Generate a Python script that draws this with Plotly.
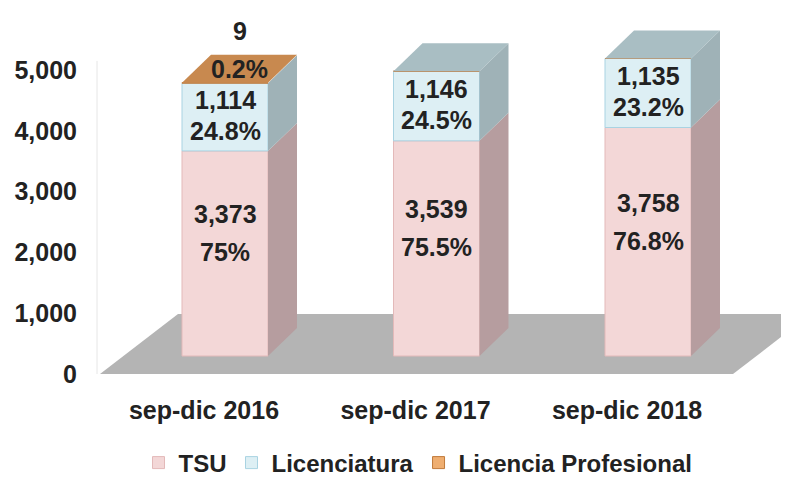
import plotly.graph_objects as go

# ---------------- data ----------------
categories = ["sep-dic 2016", "sep-dic 2017", "sep-dic 2018"]
tsu = [3373, 3539, 3758]
licenciatura = [1114, 1146, 1135]
lic_prof = [9, 0, 0]
tsu_pct = ["75%", "75.5%", "76.8%"]
lic_pct = ["24.8%", "24.5%", "23.2%"]
lic_prof_pct = ["0.2%", "", ""]
y_ticks = [0, 1000, 2000, 3000, 4000, 5000]

# ---------------- layout geometry ----------------
PAGE_OFF = 8                      # default body margin of the html page
W, H = 789 - PAGE_OFF, 489 - PAGE_OFF
ML, MR, MT = 97 - PAGE_OFF, 0, 0
MB = H - (374 - PAGE_OFF)
PLOT_W = W - ML - MR
PLOT_H = H - MT - MB
X_PX_PER_CAT = 211.5
FIRST_CAT_PX = 225.0 - PAGE_OFF   # pixel x of first bar front centre
Y_MAX = PLOT_H / 0.0608

def dx_px(p):
    return p / X_PX_PER_CAT

def dy_px(p):
    return p * Y_MAX / PLOT_H

def x_at(page_pixel):
    return (page_pixel - PAGE_OFF - FIRST_CAT_PX) / X_PX_PER_CAT

X_MIN = (ML - FIRST_CAT_PX) / X_PX_PER_CAT
X_MAX = X_MIN + PLOT_W / X_PX_PER_CAT

BAR_W = dx_px(86)
FRONT_BASE = dy_px(18)
DEPTH_X, DEPTH_Y = dx_px(29), dy_px(28)

FONT = "Liberation Sans, Arial, sans-serif"
TXT = "#222222"

C_TSU, C_TSU_SIDE, C_TSU_LINE = "#F3D7D7", "#B69D9F", "#E3B9B9"
C_LIC, C_LIC_SIDE, C_LIC_TOP, C_LIC_LINE = "#DDEFF4", "#9FB2B7", "#A9BEC3", "#A9D3E2"
C_LP, C_LP_SIDE, C_LP_TOP, C_LP_LINE = "#EFAE70", "#A8703F", "#C8894F", "#C07A3A"

xs = list(range(len(categories)))
base_tsu = [FRONT_BASE for _ in xs]
base_lic = [FRONT_BASE + t for t in tsu]
base_lp = [FRONT_BASE + t + l for t, l in zip(tsu, licenciatura)]
tops = [b + p for b, p in zip(base_lp, lic_prof)]

fig = go.Figure()

# front faces (library bars)
fig.add_trace(go.Bar(x=xs, y=tsu, base=base_tsu, width=BAR_W, name="TSU",
                     marker=dict(color=C_TSU, line=dict(color=C_TSU_LINE, width=1)),
                     hoverinfo="skip"))
fig.add_trace(go.Bar(x=xs, y=licenciatura, base=base_lic, width=BAR_W, name="Licenciatura",
                     marker=dict(color=C_LIC, line=dict(color=C_LIC_LINE, width=1)),
                     hoverinfo="skip"))
fig.add_trace(go.Bar(x=xs, y=lic_prof, base=base_lp, width=BAR_W, name="Licencia Profesional",
                     marker=dict(color=C_LP, line=dict(color=C_LP_LINE, width=1)),
                     hoverinfo="skip"))

# side faces and top faces derived from the data
def side_poly(xc, b, v):
    x1 = xc + BAR_W / 2
    return ([x1, x1 + DEPTH_X, x1 + DEPTH_X, x1, x1],
            [b, b + DEPTH_Y, b + v + DEPTH_Y, b + v, b])

for i in xs:
    for b, v, col in ((base_tsu[i], tsu[i], C_TSU_SIDE),
                      (base_lic[i], licenciatura[i], C_LIC_SIDE),
                      (base_lp[i], lic_prof[i], C_LP_SIDE)):
        if v <= 0:
            continue
        px, py = side_poly(i, b, v)
        fig.add_trace(go.Scatter(x=px, y=py, mode="lines", fill="toself", fillcolor=col,
                                 line=dict(width=0, color=col), showlegend=False,
                                 hoverinfo="skip"))
    top = tops[i]
    x0, x1 = i - BAR_W / 2, i + BAR_W / 2
    tcol = C_LP_TOP if lic_prof[i] > 0 else C_LIC_TOP
    fig.add_trace(go.Scatter(x=[x0, x1, x1 + DEPTH_X, x0 + DEPTH_X, x0],
                             y=[top, top, top + DEPTH_Y, top + DEPTH_Y, top],
                             mode="lines", fill="toself", fillcolor=tcol,
                             line=dict(width=0, color=tcol), showlegend=False,
                             hoverinfo="skip"))

# floor (below everything)
FL_L, FL_R = x_at(100), x_at(733)
FL_DX, FL_DY = dx_px(78), dy_px(60)
floor_path = (f"M{FL_L},0 L{FL_R},0 L{FL_R + FL_DX},{FL_DY} "
              f"L{FL_L + FL_DX},{FL_DY} Z")
shapes = [
    dict(type="path", path=floor_path, xref="x", yref="y", layer="below",
         fillcolor="#B4B4B4", line=dict(width=0)),
    dict(type="line", xref="x", yref="y", x0=FL_L, x1=FL_R, y0=-dy_px(1.5), y1=-dy_px(1.5),
         layer="below", line=dict(color="#DCDFE8", width=2)),
    dict(type="line", xref="paper", yref="y", x0=0, x1=0, y0=0, y1=5150,
         layer="below", line=dict(color="#E6E6E6", width=1)),
]

# data labels
annotations = []
lab_font = dict(family=FONT, size=25, color=TXT, weight="bold")
for i in xs:
    yc = base_tsu[i] + tsu[i] / 2
    annotations.append(dict(x=i, y=yc, text=f"{tsu[i]:,}", showarrow=False,
                            yshift=39, font=lab_font))
    annotations.append(dict(x=i, y=yc, text=tsu_pct[i], showarrow=False,
                            yshift=1, font=lab_font))
    yc = base_lic[i] + licenciatura[i] / 2
    annotations.append(dict(x=i, y=yc, text=f"{licenciatura[i]:,}", showarrow=False,
                            yshift=17, font=lab_font))
    annotations.append(dict(x=i, y=yc, text=lic_pct[i], showarrow=False,
                            yshift=-14, font=lab_font))
    if lic_prof[i] > 0:
        annotations.append(dict(x=i + DEPTH_X / 2, y=tops[i] + DEPTH_Y / 2,
                                text=lic_prof_pct[i], showarrow=False, font=lab_font))
        annotations.append(dict(x=i + DEPTH_X / 2, y=tops[i] + DEPTH_Y, text=f"{lic_prof[i]:,}",
                                showarrow=False, yshift=24, font=lab_font))

fig.update_layout(
    width=W, height=H,
    margin=dict(l=ML, r=MR, t=MT, b=MB, autoexpand=False),
    paper_bgcolor="white", plot_bgcolor="white",
    barmode="overlay",
    font=dict(family=FONT, size=25, color=TXT, weight="bold"),
    xaxis=dict(range=[X_MIN, X_MAX], showgrid=False, zeroline=False, showline=False,
               tickvals=[i - dx_px(21) for i in xs], ticktext=categories,
               ticks="outside", ticklen=14, tickcolor="rgba(0,0,0,0)",
               tickfont=dict(family=FONT, size=25, color=TXT, weight="bold")),
    yaxis=dict(range=[0, Y_MAX], showgrid=False, zeroline=False, showline=False,
               tickvals=y_ticks, tickformat=",", ticks="outside", ticklen=14,
               tickcolor="rgba(0,0,0,0)",
               tickfont=dict(family=FONT, size=25, color=TXT, weight="bold")),
    legend=dict(orientation="h", xref="container", yref="container",
                x=(418 - PAGE_OFF) / W, xanchor="center",
                y=1 - (463 - PAGE_OFF) / H, yanchor="middle",
                font=dict(family=FONT, size=24, color=TXT, weight="bold"),
                itemclick=False, itemdoubleclick=False),
    shapes=shapes,
    annotations=annotations,
    showlegend=True,
)

fig.write_html("out.html")
